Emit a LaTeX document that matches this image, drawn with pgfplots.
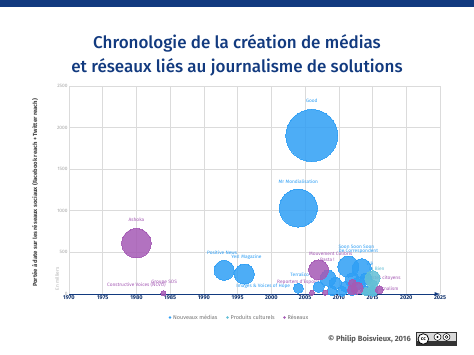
\documentclass[border=0pt]{standalone}
\usepackage{pgfplots}
\pgfplotsset{compat=1.18}
\usepackage{pgfplotstable}
\usepackage{fontspec}
\setmainfont{Fira Sans}
\newfontfamily\titlef{Fira Sans Medium}
\definecolor{navy}{HTML}{123A7F}
\definecolor{media}{HTML}{2F9FF5}
\definecolor{prod}{HTML}{62BFD6}
\definecolor{res}{HTML}{A55AB5}
\pgfplotstableread{
x y r
2006 1905 26
2004 1033 19
1993 285 10
1996 240 10
2004 70 5
2007 85 5.5
2008.4 190 8
2009 40 5
2010.5 35 5
2011.4 330 10.5
2012 40 5
2013.4 310 9.5
2014 40 5
2015 35 5
2009.5 130 6
2011 90 5.5
2012 170 7
2013 130 6
2014 180 6
}\media
\pgfplotstableread{
x y r
2015 190 7.5
2015 110 5
2015 40 5
2014 30 4
}\prod
\pgfplotstableread{
x y r
1980 610 14.7
1984 10 2.5
2006 15 2.5
2007 290 10
2008 15 2.5
2012 50 5
2012.7 70 6
2016 50 4
2012 130 4
}\res
\tikzset{lbl/.style={font=\fontsize{4.8}{5}\selectfont,inner sep=0pt}}
\pgfplotsset{bubble/.style={only marks,mark=*,scatter,
  scatter/use mapped color={draw=#1,fill=#1},
  visualization depends on={\thisrow{r}\as\rr},
  scatter/@pre marker code/.append style={/tikz/mark size=\rr pt},
  mark options={draw=#1,fill=#1,line width=0pt,opacity=.85}}}
\newcommand\lab[4]{\addplot[draw=none,no marks,forget plot] coordinates {(#1,#2)} node[lbl,text=#3] {#4};}
\begin{document}
\begin{tikzpicture}[x=1pt,y=1pt]
\path[use as bounding box,fill=white] (0,0) rectangle (474,355);
\fill[navy] (0,348) rectangle (474,355);
\node[navy,font=\fontsize{17}{24}\selectfont\titlef,align=center] at (237,300) {Chronologie de la création de médias\\et réseaux liés au journalisme de solutions};
\begin{axis}[at={(69pt,61pt)},anchor=origin,scale only axis,width=371pt,height=208pt,
 xmin=1970,xmax=2025,ymin=0,ymax=2500,
 xtick={1970,1975,...,2025},ytick={0,500,...,2500},
 /pgf/number format/1000 sep={},
 /pgf/number format/assume math mode=true,
 x tick label style={font=\fontsize{5.6}{6}\selectfont\bfseries,text=navy!85!black,yshift=2pt},
 y tick label style={font=\fontsize{4.8}{5}\selectfont,text=black!35,xshift=2pt},
 grid=both,major grid style={black!14,line width=.6pt},
 axis line style={draw=none},tick style={draw=none},
 clip=false,
]
\addplot[bubble=media] table[x=x,y=y] {\media};
\addplot[bubble=prod] table[x=x,y=y] {\prod};
\addplot[bubble=res] table[x=x,y=y] {\res};
\addplot[navy,line width=.9pt,-latex,forget plot] coordinates {(1970,0) (2025,0)};
\lab{2006}{2320}{media}{Good}
\lab{2004}{1350}{media}{Mr Mondialisation}
\lab{1992.7}{495}{media}{Positive News}
\lab{1996.3}{445}{media}{Yes! Magazine}
\lab{1998.8}{100}{media}{Images \& Voices of Hope}
\lab{2004.2}{228}{media}{TerraEco}
\lab{2012.6}{565}{media}{Soon Soon Soon}
\lab{2012.9}{516}{media}{De Correspondent}
\lab{2014.6}{370}{media}{Wé}
\lab{1980}{890}{res}{Ashoka}
\lab{1980}{105}{res}{Constructive Voices (NCVO)}
\lab{1984.1}{145}{res}{Groupe SOS}
\lab{2008.8}{490}{res}{Mouvement Colibris}
\lab{2008.3}{410}{res}{Basta !}
\lab{2004}{145}{res}{Reporters d'Espoirs}
\lab{2015.8}{185}{res}{Journalistes citoyens}
\lab{2015.5}{65}{res}{Solutions Journalism}
\lab{2015.6}{300}{prod}{La Bien}
\end{axis}
\node[rotate=90,font=\fontsize{5.9}{6}\selectfont\bfseries,text=black!75,inner sep=0pt] at (35,162) {Portée à date sur les réseaux sociaux (Facebook reach + Twitter reach)};
\node[rotate=90,font=\fontsize{4.8}{5}\selectfont,text=black!30,inner sep=0pt] at (57,76) {En milliers};
% legend
\tikzset{leg/.style={anchor=west,inner sep=0pt,font=\fontsize{5.5}{6}\selectfont,text=black!55}}
\fill[media] (170,37.5) circle (1.3);
\node[leg] at (173,37.5) {Nouveaux médias};
\fill[prod] (227.5,37.5) circle (1.3);
\node[leg] at (230.5,37.5) {Produits culturels};
\fill[res] (284.5,37.5) circle (1.3);
\node[leg] at (287.5,37.5) {Réseaux};
\node[anchor=east,font=\fontsize{7.6}{8}\selectfont\bfseries,text=black!65,inner sep=0pt] at (411,16) {© Philip Boisvieux, 2016};
% cc badge
\fill[black!80] (416,9) rectangle (456.7,23.3);
\fill[black!15] (417,13.5) rectangle (455.7,22.3);
\fill[white,draw=black,line width=.8pt] (423.3,16) circle (5.3);
\node[font=\fontsize{5}{5}\selectfont\bfseries,inner sep=0pt] at (423.3,16) {cc};
\fill[white,draw=black,line width=.5pt] (437.5,18) circle (3.5);
\fill[white,draw=black,line width=.5pt] (446.5,18) circle (3.5);
\fill[black] (437.5,18) circle (1.2);
\draw[black,line width=.5pt] (446.5,18) circle (1.4);
\end{tikzpicture}
\end{document}
